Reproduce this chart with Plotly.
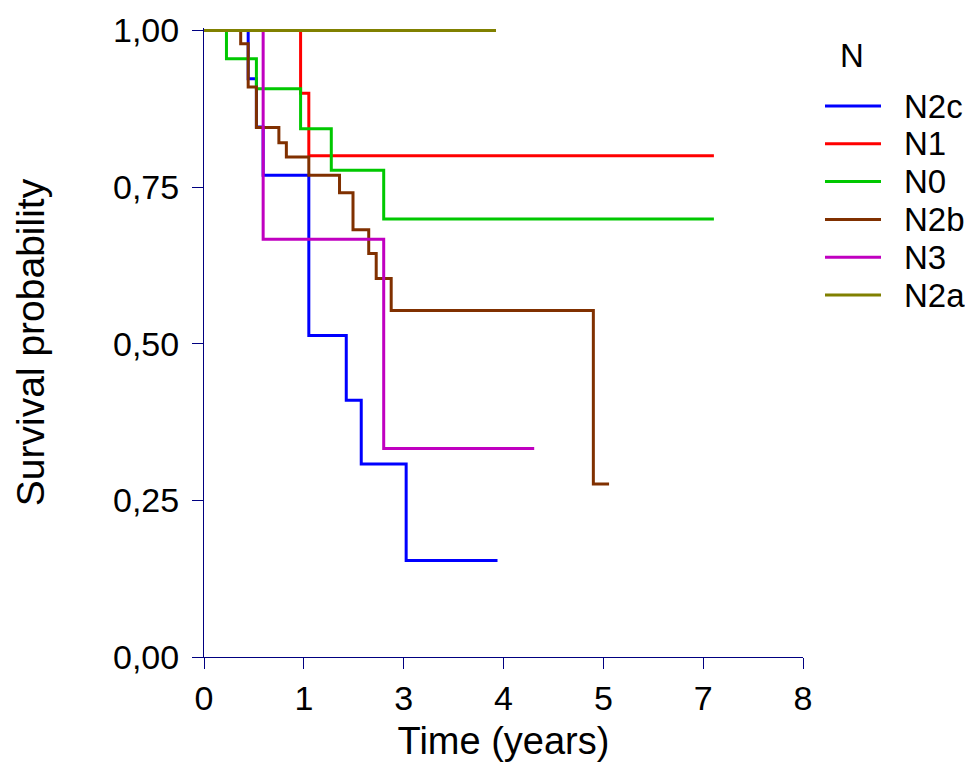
import numpy as np
import plotly.graph_objects as go

# Kaplan-Meier survival by nodal stage (time in years, survival probability)
groups = ["N2c", "N1", "N0", "N2b", "N3", "N2a"]

n2c_time = [0, 0.59, 0.70, 0.79, 1.40, 1.90, 2.10, 2.70, 3.92]
n2c_surv = [1, 0.923, 0.846, 0.769, 0.513, 0.410, 0.308, 0.154, 0.154]

n1_time = [0, 1.29, 1.40, 6.81]
n1_surv = [1, 0.900, 0.800, 0.800]

n0_time = [0, 0.30, 0.70, 1.29, 1.70, 2.40, 6.81]
n0_surv = [1, 0.955, 0.907, 0.843, 0.777, 0.699, 0.699]

n2b_time = [0, 0.49, 0.59, 0.70, 1.00, 1.10, 1.40, 1.81, 1.99, 2.20, 2.30, 2.50, 5.20, 5.41]
n2b_surv = [1, 0.979, 0.910, 0.845, 0.821, 0.798, 0.769, 0.741, 0.682, 0.644, 0.604, 0.553, 0.276, 0.276]

n3_time = [0, 0.79, 2.40, 4.41]
n3_surv = [1, 0.667, 0.333, 0.333]

n2a_time = [0, 3.90]
n2a_surv = [1, 1]

x_tick_labels = ["0", "1", "3", "4", "5", "7", "8"]
y_tick_values = [0, 0.25, 0.5, 0.75, 1.0]

colors = ["#0000FF", "#FF0000", "#00C800", "#803000", "#C000C0", "#808000"]

series = [
    (n2c_time, n2c_surv),
    (n1_time, n1_surv),
    (n0_time, n0_surv),
    (n2b_time, n2b_surv),
    (n3_time, n3_surv),
    (n2a_time, n2a_surv),
]

W, H = 965, 762
ML, MR, MT, MB = 204, 162, 28, 105
FONT = "Arial, Liberation Sans, sans-serif"
AXIS_COLOR = "#000080"


def paper_x(px):
    return (px - ML) / (W - ML - MR)


def paper_y(py):
    return (H - MB - py) / (H - MT - MB)


fig = go.Figure()
for name, (t, s), c in zip(groups, series, colors):
    fig.add_trace(go.Scatter(
        x=t, y=s, name=name, mode="lines",
        line=dict(color=c, width=3, shape="hv"),
        showlegend=False,
    ))

# Legend drawn at fixed positions to the right of the plot
fig.add_annotation(
    x=paper_x(852), y=paper_y(56), xref="paper", yref="paper",
    text="N", showarrow=False, xanchor="center", yanchor="middle",
    font=dict(family=FONT, size=33, color="black"),
)
for i, (name, c) in enumerate(zip(groups, colors)):
    py = 106 + 37.8 * i
    fig.add_shape(
        type="line", xref="paper", yref="paper",
        x0=paper_x(825), x1=paper_x(881), y0=paper_y(py), y1=paper_y(py),
        line=dict(color=c, width=3),
    )
    fig.add_annotation(
        x=paper_x(902), y=paper_y(py), xref="paper", yref="paper",
        text=name, showarrow=False, xanchor="left", yanchor="middle",
        font=dict(family=FONT, size=33, color="black"),
    )

x_tick_vals = np.linspace(0, 8, len(x_tick_labels))

fig.update_layout(
    width=W, height=H,
    margin=dict(l=ML, r=MR, t=MT, b=MB, pad=0),
    paper_bgcolor="white", plot_bgcolor="white",
    separators=",.",
    font=dict(family=FONT, color="black"),
)
fig.update_xaxes(
    range=[0, 8], tickmode="array", tickvals=x_tick_vals, ticktext=x_tick_labels,
    showgrid=False, zeroline=False, showline=True, linecolor=AXIS_COLOR, linewidth=1,
    ticks="outside", ticklen=11, tickcolor=AXIS_COLOR, tickwidth=1,
    tickfont=dict(family=FONT, size=34, color="black"),
    automargin=False,
    title=dict(text="Time (years)", font=dict(family=FONT, size=38, color="black"), standoff=13),
)
fig.update_yaxes(
    range=[0, 1.004], tickmode="array", tickvals=y_tick_values, tickformat=".2f",
    showgrid=False, zeroline=False, showline=True, linecolor=AXIS_COLOR, linewidth=1,
    ticks="outside", ticklen=11, tickcolor=AXIS_COLOR, tickwidth=1,
    ticklabelstandoff=6,
    tickfont=dict(family=FONT, size=34, color="black"),
    automargin=False,
    title=dict(text="Survival probability", font=dict(family=FONT, size=39, color="black"), standoff=56),
)

fig.write_html("out.html")
